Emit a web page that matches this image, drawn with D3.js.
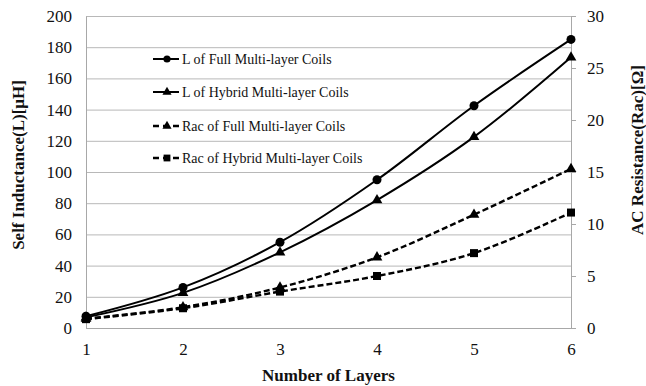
<!DOCTYPE html>
<html>
<head>
<meta charset="utf-8">
<script src="https://cdn.jsdelivr.net/npm/d3@7"></script>
<style>
  body { margin: 0; background: #fff; }
  text { font-family: "Liberation Serif", "Times New Roman", serif; fill: #111; }
</style>
</head>
<body>
<div class="chart"></div>
<script>
var margin = { top: 16, right: 75, bottom: 58, left: 86 },
  width = 646 - margin.left - margin.right,
  height = 386 - margin.top - margin.bottom;

var serif = '"Liberation Serif", "Times New Roman", serif';

// data
var layers = [1, 2, 3, 4, 5, 6];
var lFull = [7.5, 26, 55, 95, 142.5, 185];
var lHybrid = [6.8, 22.5, 48.5, 82, 122.5, 173.5];
var racFull = [0.9, 2.0, 3.9, 6.8, 10.9, 15.3];
var racHybrid = [0.85, 1.9, 3.5, 5.0, 7.2, 11.1];

var leftTicks = [0, 20, 40, 60, 80, 100, 120, 140, 160, 180, 200];
var rightTicks = [0, 5, 10, 15, 20, 25, 30];

var seriesNames = [
  'L of Full Multi-layer Coils',
  'L of Hybrid Multi-layer Coils',
  'Rac of Full Multi-layer Coils',
  'Rac of Hybrid Multi-layer Coils'
];

var series = [
  { name: seriesNames[0], values: lFull, axis: 'left', dash: null, marker: 'circle' },
  { name: seriesNames[1], values: lHybrid, axis: 'left', dash: null, marker: 'triangle' },
  { name: seriesNames[2], values: racFull, axis: 'right', dash: '6,3', marker: 'triangle' },
  { name: seriesNames[3], values: racHybrid, axis: 'right', dash: '6,3', marker: 'square' }
];

var svg = d3.select('.chart').append('svg')
  .attr('width', width + margin.left + margin.right)
  .attr('height', height + margin.top + margin.bottom);

var g = svg.append('g')
  .attr('transform', 'translate(' + margin.left + ',' + margin.top + ')');

var x = d3.scaleLinear().domain([1, 6]).range([0, width]);
var y = d3.scaleLinear().domain([0, 200]).range([height, 0]);
var y2 = d3.scaleLinear().domain([0, 30]).range([height, 0]);

// gridlines
g.append('g')
  .attr('class', 'grid')
  .call(d3.axisLeft(y).tickValues(leftTicks).tickSize(-width).tickFormat(''))
  .call(function (s) {
    s.select('.domain').remove();
    s.selectAll('line').style('stroke', '#b8b8b8').style('stroke-width', 1);
  });

function styleAxis(s) {
  s.attr('font-family', serif);
  s.select('.domain').style('stroke', '#a8a8a8');
  s.selectAll('line').style('stroke', '#a8a8a8');
  s.selectAll('text').style('font-size', '17px').style('font-family', serif).style('fill', '#111');
}

// left axis
g.append('g')
  .attr('class', 'y axis')
  .call(d3.axisLeft(y).tickValues(leftTicks).tickSize(0).tickPadding(14))
  .call(styleAxis);

// right axis
g.append('g')
  .attr('class', 'y2 axis')
  .attr('transform', 'translate(' + width + ',0)')
  .call(d3.axisRight(y2).tickValues(rightTicks).tickSize(5).tickPadding(11))
  .call(styleAxis);

// bottom axis
g.append('g')
  .attr('class', 'x axis')
  .attr('transform', 'translate(0,' + height + ')')
  .call(d3.axisBottom(x).tickValues(layers).tickFormat(d3.format('d')).tickSize(0).tickPadding(15))
  .call(styleAxis);

// axis titles
svg.append('text')
  .attr('transform', 'translate(24,165)rotate(-90)')
  .style('text-anchor', 'middle')
  .style('font-size', '17px')
  .style('font-weight', 'bold')
  .text('Self Inductance(L)[\u03bcH]');

svg.append('text')
  .attr('transform', 'translate(643,150)rotate(-90)')
  .style('text-anchor', 'middle')
  .style('font-size', '17px')
  .style('font-weight', 'bold')
  .text('AC Resistance(Rac)[\u03a9]');

svg.append('text')
  .attr('x', margin.left + width / 2)
  .attr('y', 381)
  .style('text-anchor', 'middle')
  .style('font-size', '17px')
  .style('font-weight', 'bold')
  .text('Number of Layers');

function drawMarker(sel, type) {
  if (type === 'circle') {
    sel.append('circle').attr('r', 4.5);
  } else if (type === 'triangle') {
    sel.append('path').attr('d', d3.symbol().type(d3.symbolTriangle).size(50));
  } else {
    sel.append('rect').attr('x', -4).attr('y', -4).attr('width', 8).attr('height', 8);
  }
}

var line = d3.line().curve(d3.curveCatmullRom.alpha(0.5));

series.forEach(function (s) {
  var yy = s.axis === 'left' ? y : y2;
  var pts = s.values.map(function (v, i) { return [x(layers[i]), yy(v)]; });

  g.append('path')
    .attr('d', line(pts))
    .style('fill', 'none')
    .style('stroke', '#000')
    .style('stroke-width', s.dash ? 2.4 : 2)
    .style('stroke-dasharray', s.dash);

  g.selectAll(null)
    .data(pts)
    .enter().append('g')
    .attr('transform', function (d) { return 'translate(' + d[0] + ',' + d[1] + ')'; })
    .each(function () { drawMarker(d3.select(this), s.marker); })
    .selectAll('*').style('fill', '#000');
});

// legend
var legendY = [59, 92, 126, 158];
var legend = svg.append('g').attr('class', 'legend');
series.forEach(function (s, i) {
  var row = legend.append('g').attr('transform', 'translate(153,' + legendY[i] + ')');
  row.append('line')
    .attr('x1', 0).attr('x2', 26)
    .style('stroke', '#000')
    .style('stroke-width', s.dash ? 2.4 : 2)
    .style('stroke-dasharray', s.dash ? '6,4' : null);
  var m = row.append('g').attr('transform', 'translate(14,0)');
  drawMarker(m, s.marker);
  m.selectAll('*').style('fill', '#000')
    .attr('transform', s.marker === 'circle' ? 'scale(0.8)' : 'scale(0.85)');
  row.append('text')
    .attr('x', 29)
    .attr('dy', '0.35em')
    .style('font-size', '14px')
    .text(s.name);
});
</script>
</body>
</html>
